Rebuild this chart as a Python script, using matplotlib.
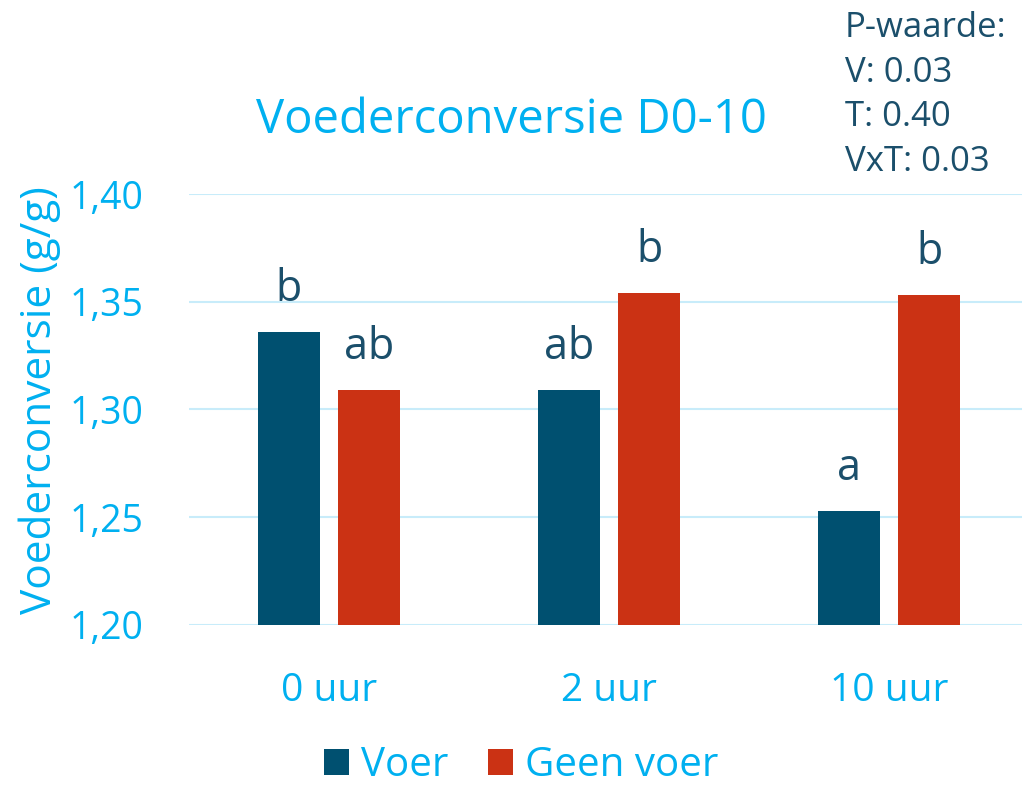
import matplotlib
matplotlib.use('Agg')
import matplotlib.pyplot as plt
import numpy as np

plt.rcParams['font.family'] = ['Open Sans', 'DejaVu Sans']

categories = ['0 uur', '2 uur', '10 uur']
voer = [1.336, 1.309, 1.253]
geen_voer = [1.309, 1.354, 1.353]
voer_letters = ['b', 'ab', 'a']
geen_letters = ['ab', 'b', 'b']
yticks = [1.20, 1.25, 1.30, 1.35, 1.40]
pvalues = 'P-waarde:\nV: 0.03\nT: 0.40\nVxT: 0.03'

blue = '#00b0f0'
dark = '#005070'
red = '#cb3214'
dtext = '#1b4f6b'
grid = '#c8ecfa'

fig = plt.figure(figsize=(10.22, 7.85), dpi=100)
ax = fig.add_axes([189/1022, 1 - 625/785, 1 - 189/1022, (625 - 194)/785])

x = np.arange(len(categories))
w = 0.221
off = 0.143
b1 = ax.bar(x - off, np.array(voer) - 1.2, w, bottom=1.2, color=dark, label='Voer', zorder=3)
b2 = ax.bar(x + off, np.array(geen_voer) - 1.2, w, bottom=1.2, color=red, label='Geen voer', zorder=3)

for i in range(len(categories)):
    ax.text(x[i] - off, voer[i] + 0.0144, voer_letters[i], ha='center', va='baseline',
            fontsize=31, color=dtext)
    ax.text(x[i] + off, geen_voer[i] + 0.0144, geen_letters[i], ha='center', va='baseline',
            fontsize=31, color=dtext)

ax.set_xlim(-0.5, 2.5 - 7/280)
ax.set_ylim(1.2, 1.4)
ax.set_yticks(yticks)
ax.set_yticklabels([('%.2f' % v).replace('.', ',') for v in yticks])
ax.set_xticks(x)
ax.set_xticklabels(categories)
ax.tick_params(axis='y', length=0, labelsize=27, labelcolor=blue, pad=33)
ax.tick_params(axis='x', length=0, labelsize=28, labelcolor=blue, pad=34)
ax.yaxis.grid(True, color=grid, linewidth=1.5, zorder=0)
for s in ax.spines.values():
    s.set_visible(False)

fig.text(40/1022, 1 - 400/785, 'Voederconversie (g/g)', rotation=90, ha='center', va='center',
         fontsize=30.5, color=blue)
fig.text(0.50, 1 - 120/785, 'Voederconversie D0-10', ha='center', va='center', fontsize=34, color=blue)
fig.text(845/1022, 1 - 95/785, pvalues, ha='left', va='center', fontsize=25, color=dtext,
         linespacing=1.41)

fig.legend(handles=[b1, b2], loc='center', bbox_to_anchor=(0.51, 1 - 766/785), ncol=2,
           frameon=False, fontsize=29, labelcolor=blue, handlelength=0.62, handleheight=0.62,
           handletextpad=0.3, columnspacing=1.0)

fig.savefig('out.png', dpi=100)
